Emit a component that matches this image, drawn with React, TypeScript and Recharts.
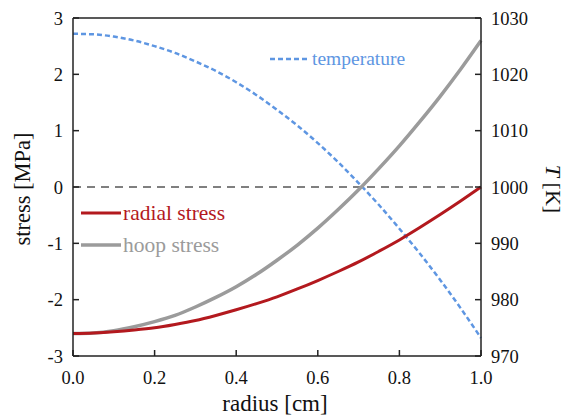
import { LineChart, Line, XAxis, YAxis, ReferenceLine } from 'recharts'

const radius = [0, 0.05, 0.1, 0.15, 0.2, 0.25, 0.3, 0.35, 0.4, 0.45, 0.5, 0.55, 0.6, 0.65, 0.7, 0.75, 0.8, 0.85, 0.9, 0.95, 1.0]
const radialStress = [-2.6, -2.59, -2.57, -2.54, -2.5, -2.44, -2.37, -2.28, -2.18, -2.07, -1.95, -1.81, -1.66, -1.5, -1.33, -1.14, -0.94, -0.72, -0.49, -0.25, 0.0]
const hoopStress = [-2.6, -2.59, -2.55, -2.48, -2.39, -2.28, -2.13, -1.96, -1.77, -1.55, -1.3, -1.03, -0.73, -0.4, -0.05, 0.33, 0.73, 1.16, 1.61, 2.09, 2.6]
const temperature = [1027.2, 1027.1, 1026.7, 1026.0, 1025.0, 1023.8, 1022.3, 1020.6, 1018.6, 1016.3, 1013.7, 1010.9, 1007.8, 1004.4, 1000.7, 996.8, 992.6, 988.2, 983.5, 978.5, 973.2]

const xTicks = [0, 0.2, 0.4, 0.6, 0.8, 1.0]
const stressTicks = [-3, -2, -1, 0, 1, 2, 3]
const tempTicks = [970, 980, 990, 1000, 1010, 1020, 1030]

const RED = '#b3191e'
const GRAY = '#9b9b9b'
const BLUE = '#5e96e2'
const AXIS = '#222'
const FONT = "'Liberation Serif', 'Times New Roman', Times, serif"

const data = radius.map((r, i) => ({
  r,
  radial: radialStress[i],
  hoop: hoopStress[i],
  temp: temperature[i],
}))

const tickStyle = { fontSize: 18.5, fill: '#111', fontFamily: FONT }

export default function App() {
  return (
    <div style={{ position: 'absolute', left: 0, top: 0, width: 566, height: 420, background: '#fff', fontFamily: FONT }}>
      <LineChart width={566} height={420} data={data} margin={{ top: 18, right: 84, bottom: 63, left: 72 }}>
        <XAxis
          dataKey="r"
          type="number"
          domain={[0, 1]}
          ticks={xTicks}
          tickFormatter={(v: number) => v.toFixed(1)}
          tickSize={-6}
          tickMargin={21}
          height={1}
          stroke={AXIS}
          strokeWidth={1.5}
          tick={tickStyle}
        />
        <YAxis
          yAxisId="left"
          domain={[-3, 3]}
          ticks={stressTicks}
          tickSize={-6}
          tickMargin={16}
          width={1}
          stroke={AXIS}
          strokeWidth={1.5}
          tick={tickStyle}
          interval={0}
        />
        <YAxis
          yAxisId="right"
          orientation="right"
          domain={[970, 1030]}
          ticks={tempTicks}
          tickSize={-6}
          tickMargin={16}
          width={1}
          stroke={AXIS}
          strokeWidth={1.5}
          tick={tickStyle}
          interval={0}
        />
        <ReferenceLine yAxisId="left" y={3} stroke={AXIS} strokeWidth={1.5} />
        <ReferenceLine yAxisId="left" y={0} stroke="#000" strokeWidth={1} strokeDasharray="8 6" />
        <Line yAxisId="right" dataKey="temp" type="monotone" stroke={BLUE} strokeWidth={2.5} strokeDasharray="5 3" dot={false} isAnimationActive={false} />
        <Line yAxisId="left" dataKey="hoop" type="monotone" stroke={GRAY} strokeWidth={3.5} dot={false} isAnimationActive={false} />
        <Line yAxisId="left" dataKey="radial" type="monotone" stroke={RED} strokeWidth={3} dot={false} isAnimationActive={false} />
      </LineChart>
      <svg width={566} height={420} style={{ position: 'absolute', left: 0, top: 0, pointerEvents: 'none', fontFamily: FONT }}>
        <text x={275} y={411} textAnchor="middle" fontSize={23} fill="#111">radius [cm]</text>
        <text transform="translate(30,189) rotate(-90)" textAnchor="middle" fontSize={22.5} fill="#111">stress [MPa]</text>
        <text transform="translate(546,189) rotate(90)" textAnchor="middle" fontSize={22} fill="#111">
          <tspan fontStyle="italic">T</tspan> [K]
        </text>
        <line x1={81} x2={121} y1={213} y2={213} stroke={RED} strokeWidth={3} />
        <text x={123} y={220} fontSize={21.5} fill={RED}>radial stress</text>
        <line x1={81} x2={121} y1={245} y2={245} stroke={GRAY} strokeWidth={3.5} />
        <text x={123} y={252} fontSize={21.5} fill={GRAY}>hoop stress</text>
        <line x1={270} x2={310} y1={59} y2={59} stroke={BLUE} strokeWidth={2.5} strokeDasharray="5 3" />
        <text x={312} y={65} fontSize={19.5} fill={BLUE}>temperature</text>
      </svg>
    </div>
  )
}
